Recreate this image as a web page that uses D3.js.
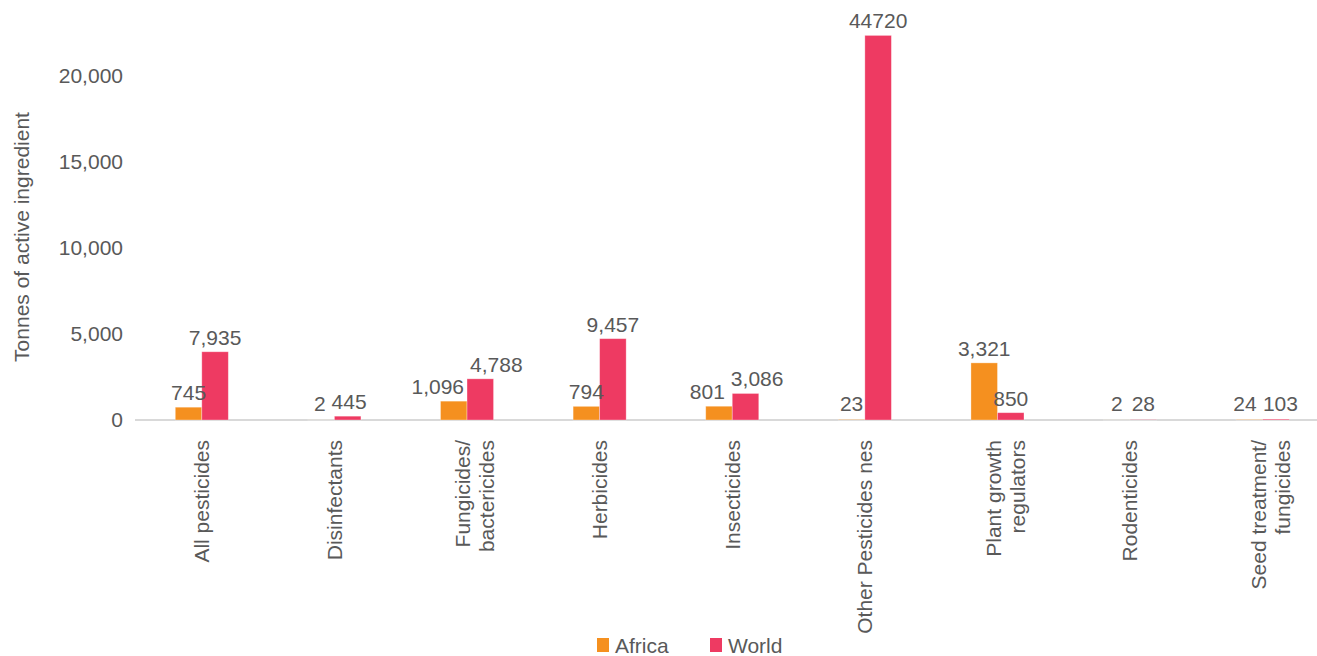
<!DOCTYPE html>
<html>
<head>
<meta charset="utf-8">
<script src="https://cdn.jsdelivr.net/npm/d3@7"></script>
<style>
  body { margin: 0; background: #fff; }
  text { font-family: "Liberation Sans", Arial, sans-serif; fill: #595959; }
</style>
</head>
<body>
<svg width="1317" height="656"></svg>
<script>
var categories = ["All pesticides", "Disinfectants", "Fungicides/\nbactericides", "Herbicides",
    "Insecticides", "Other Pesticides nes", "Plant growth\nregulators", "Rodenticides",
    "Seed treatment/\nfungicides"];
var africa = [745, 2, 1096, 794, 801, 23, 3321, 2, 24];
var world = [7935, 445, 4788, 9457, 3086, 44720, 850, 28, 103];
var africaLabels = ["745", "2", "1,096", "794", "801", "23", "3,321", "2", "24"];
var worldLabels = ["7,935", "445", "4,788", "9,457", "3,086", "44720", "850", "28", "103"];
var yTicks = [0, 5000, 10000, 15000, 20000];
var seriesNames = ["Africa", "World"];

var colors = {Africa: "#F5901F", World: "#EE3A62"};
// in the source the World bars are plotted at half their labelled value
var worldBarFactor = 0.5;
var fontSize = "21px";

var svg = d3.select("svg");
var baseY = 420;

var y = d3.scaleLinear().domain([0, 20000]).range([baseY, 76]);

var x0 = d3.scaleBand()
    .domain(categories)
    .range([135.5, 1329])
    .paddingInner(0.6)
    .paddingOuter(0.3);

var x1 = d3.scaleBand()
    .domain(seriesNames)
    .range([0, x0.bandwidth()]);

var rows = categories.map(function(c, i) {
    return {
        cat: c,
        bars: [
            {name: "Africa", value: africa[i], plot: africa[i], label: africaLabels[i]},
            {name: "World", value: world[i], plot: world[i] * worldBarFactor, label: worldLabels[i]}
        ]
    };
});

// baseline
svg.append("line")
    .attr("x1", 135).attr("x2", 1317)
    .attr("y1", baseY).attr("y2", baseY)
    .attr("stroke", "#d9d9d9")
    .attr("stroke-width", 2);

// y axis (labels only)
var yAxis = svg.append("g")
    .attr("transform", "translate(123,0)")
    .call(d3.axisLeft(y).tickValues(yTicks).tickSize(0).tickPadding(0).tickFormat(d3.format(",")));
yAxis.select(".domain").remove();
yAxis.selectAll("text")
    .style("font-size", fontSize)
    .style("font-family", "Liberation Sans, Arial, sans-serif")
    .attr("fill", "#595959");

svg.append("text")
    .attr("transform", "translate(29,237) rotate(-90)")
    .attr("text-anchor", "middle")
    .style("font-size", fontSize)
    .text("Tonnes of active ingredient");

var group = svg.selectAll(".cat")
    .data(rows)
    .enter().append("g")
    .attr("class", "cat")
    .attr("transform", function(d) { return "translate(" + x0(d.cat) + ",0)"; });

group.selectAll("rect")
    .data(function(d) { return d.bars; })
    .enter().append("rect")
    .attr("x", function(d) { return x1(d.name); })
    .attr("width", x1.bandwidth())
    .attr("y", function(d) { return y(d.plot); })
    .attr("height", function(d) { return baseY - y(d.plot); })
    .attr("fill", function(d) { return colors[d.name]; })
    .attr("stroke", "#fff")
    .attr("stroke-opacity", 0.4)
    .attr("stroke-width", 0.8);

group.selectAll(".val")
    .data(function(d) { return d.bars; })
    .enter().append("text")
    .attr("class", "val")
    .attr("x", function(d) { return x1(d.name) + x1.bandwidth() / 2; })
    .attr("y", function(d) { return Math.min(y(d.plot) - 7, baseY - 9); })
    .attr("text-anchor", "middle")
    .style("font-size", fontSize)
    .text(function(d) { return d.label; });

// push the two labels of a group apart when they collide
group.each(function() {
    var labels = d3.select(this).selectAll(".val").nodes();
    var a = labels[0].getBBox(), b = labels[1].getBBox();
    var overlapX = (a.x + a.width + 6) - b.x;
    var overlapY = Math.min(a.y + a.height, b.y + b.height) - Math.max(a.y, b.y);
    if (overlapX > 0 && overlapY > 0) {
        d3.select(labels[0]).attr("x", +d3.select(labels[0]).attr("x") - overlapX / 2);
        d3.select(labels[1]).attr("x", +d3.select(labels[1]).attr("x") + overlapX / 2);
    }
});

// category labels, rotated
var catLabel = svg.selectAll(".catlabel")
    .data(categories)
    .enter().append("text")
    .attr("class", "catlabel")
    .attr("transform", function(d) {
        return "translate(" + (x0(d) + x0.bandwidth() / 2) + ",440) rotate(-90)";
    })
    .attr("text-anchor", "end")
    .style("font-size", fontSize);

catLabel.each(function(d) {
    var lines = d.split("\n");
    var t = d3.select(this);
    lines.forEach(function(line, i) {
        var off = lines.length === 1 ? 0 : (i - 0.5) * 24 + 8;
        t.append("tspan")
            .attr("x", 0)
            .attr("y", off)
            .attr("dy", "0.35em")
            .text(line);
    });
});

// legend
var legend = svg.selectAll(".legend")
    .data(seriesNames)
    .enter().append("g")
    .attr("class", "legend")
    .attr("transform", function(d, i) { return "translate(" + (597 + i * 113) + ",638)"; });

legend.append("rect")
    .attr("width", 12)
    .attr("height", 14)
    .attr("fill", function(d) { return colors[d]; });

legend.append("text")
    .attr("x", 18)
    .attr("y", 15)
    .style("font-size", fontSize)
    .text(function(d) { return d; });
</script>
</body>
</html>
